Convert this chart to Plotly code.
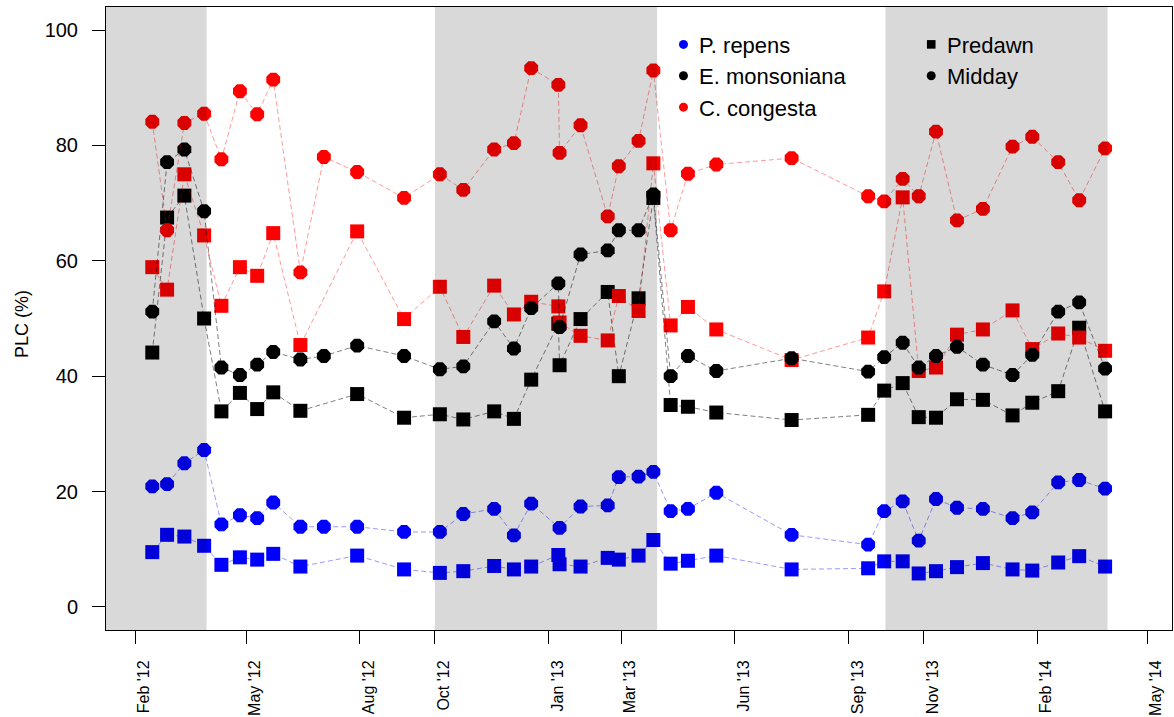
import plotly.graph_objects as go

# Sampling dates (shared by all species; None marks a missing measurement)
sample_dates = [
    "2012-02-15", "2012-02-27", "2012-03-12", "2012-03-28", "2012-04-11",
    "2012-04-26", "2012-05-10", "2012-05-23", "2012-06-14", "2012-07-03",
    "2012-07-30", "2012-09-06", "2012-10-05", "2012-10-24", "2012-11-18",
    "2012-12-04", "2012-12-18", "2013-01-09", "2013-01-10", "2013-01-27",
    "2013-02-18", "2013-02-27", "2013-03-15", "2013-03-27", "2013-04-10",
    "2013-04-24", "2013-05-17", "2013-07-17", "2013-09-17", "2013-09-30",
    "2013-10-15", "2013-10-28", "2013-11-11", "2013-11-28", "2013-12-19",
    "2014-01-12", "2014-01-28", "2014-02-18", "2014-03-07", "2014-03-28",
]

# Percent loss of conductivity (PLC, %)
repens_predawn = [
    9.5, 12.5, 12.2, 10.6, 7.3, 8.6, 8.2, 9.2, 7.0, None,
    8.9, 6.5, 5.9, 6.2, 7.1, 6.5, 7.0, 9.0, 7.4, 7.0,
    8.5, 8.2, 8.9, 11.6, 7.5, 8.0, 8.9, 6.5, 6.7, 7.9,
    7.9, 5.8, 6.2, 6.9, 7.6, 6.5, 6.3, 7.7, 8.8, 7.0,
]
repens_midday = [
    20.9, 21.3, 24.9, 27.2, 14.3, 15.9, 15.4, 18.1, 13.9, 13.9,
    13.9, 13.0, 13.0, 16.1, 17.0, 12.4, 17.9, None, 13.7, 17.4,
    17.6, 22.5, 22.6, 23.4, 16.6, 17.0, 19.8, 12.5, 10.8, 16.6,
    18.3, 11.5, 18.7, 17.2, 17.0, 15.4, 16.4, 21.6, 22.0, 20.5,
]
monsoniana_predawn = [
    44.1, 67.5, 71.3, 50.0, 33.9, 37.1, 34.3, 37.2, 34.0, None,
    36.9, 32.8, 33.4, 32.5, 33.9, 32.6, 39.4, 49.1, 41.9, 49.9,
    54.6, 40.0, 53.5, 70.9, 35.0, 34.7, 33.7, 32.4, 33.3, 37.5,
    38.8, 32.9, 32.8, 36.0, 35.9, 33.2, 35.4, 37.4, 48.4, 33.9,
]
monsoniana_midday = [
    51.2, 77.1, 79.3, 68.6, 41.5, 40.2, 42.0, 44.2, 42.9, 43.5,
    45.3, 43.5, 41.2, 41.7, 49.5, 44.8, 51.8, 56.1, 48.5, 61.1,
    61.8, 65.3, 65.3, 71.5, 40.0, 43.5, 40.9, 43.1, 40.8, 43.3,
    45.8, 41.5, 43.5, 45.1, 42.0, 40.2, 43.7, 51.2, 52.8, 41.3,
]
congesta_predawn = [
    58.9, 55.0, 75.0, 64.4, 52.2, 58.9, 57.4, 64.8, 45.4, None,
    65.1, 49.9, 55.5, 46.8, 55.7, 50.7, 52.9, 52.1, 49.3, 47.0,
    46.2, 53.9, 51.3, 76.9, 48.8, 52.0, 48.1, 42.8, 46.7, 54.7,
    71.0, 40.9, 41.5, 47.2, 48.1, 51.4, 44.7, 47.4, 46.7, 44.4,
]
congesta_midday = [
    84.1, 65.3, 83.9, 85.5, 77.6, 89.4, 85.4, 91.4, 58.0, 78.0,
    75.4, 70.9, 75.0, 72.3, 79.3, 80.4, 93.4, 90.5, 78.7, 83.5,
    67.7, 76.4, 80.8, 93.0, 65.3, 75.1, 76.7, 77.8, 71.2, 70.3,
    74.2, 71.2, 82.4, 67.0, 69.0, 79.8, 81.5, 77.1, 70.5, 79.5,
]

# Wet-season (winter) periods shaded on the plot
season_starts = ["2011-10-01", "2012-10-01", "2013-10-01"]
season_ends = ["2012-03-30", "2013-03-30", "2014-03-30"]

tick_dates = [
    "2012-02-01", "2012-05-01", "2012-08-01", "2012-10-01", "2013-01-01",
    "2013-03-01", "2013-06-01", "2013-09-01", "2013-11-01", "2014-02-01",
    "2014-05-01",
]
tick_labels = [
    "Feb '12", "May '12", "Aug '12", "Oct '12", "Jan '13", "Mar '13",
    "Jun '13", "Sep '13", "Nov '13", "Feb '14", "May '14",
]
y_ticks = [0, 20, 40, 60, 80, 100]

species = ["P. repens", "E. monsoniana", "C. congesta"]
species_colors = ["#0000ff", "#000000", "#ff0000"]
line_colors = ["rgba(0,0,255,0.40)", "rgba(0,0,0,0.50)", "rgba(255,0,0,0.40)"]
predawn_series = [repens_predawn, monsoniana_predawn, congesta_predawn]
midday_series = [repens_midday, monsoniana_midday, congesta_midday]

W, H = 1174, 717
M_L, M_R, M_T, M_B = 106, 1, 7, 85
FONT = "Liberation Sans, Arial, sans-serif"


def paper_x(px):
    return (px - M_L) / (W - M_L - M_R)


def paper_y(py):
    return (H - M_B - py) / (H - M_T - M_B)


fig = go.Figure()

# Predawn (squares) first, then midday (octagons) on top
for series, symbol, size in ((predawn_series, "square", 14), (midday_series, "octagon", 15)):
    for name, vals, mcol, lcol in zip(species, series, species_colors, line_colors):
        fig.add_trace(go.Scatter(
            x=sample_dates, y=vals, name=name, mode="lines+markers",
            connectgaps=True, showlegend=False, hoverinfo="skip",
            line=dict(color=lcol, width=1, dash="5px,3px"),
            marker=dict(symbol=symbol, size=size, color=mcol, line=dict(width=0)),
        ))

shapes = []
for s, e in zip(season_starts, season_ends):
    shapes.append(dict(
        type="rect", xref="x", yref="paper", x0=s, x1=e, y0=0, y1=1,
        fillcolor="rgba(0,0,0,0.15)", line=dict(width=0), layer="above",
    ))

annotations = []

# Species key
species_rows = [44.5, 76, 107.5]
for name, col, row in zip(species, species_colors, species_rows):
    shapes.append(dict(
        type="circle", xref="paper", yref="paper",
        xsizemode="pixel", ysizemode="pixel",
        xanchor=paper_x(684), yanchor=paper_y(row),
        x0=-4.5, x1=4.5, y0=-4.5, y1=4.5,
        fillcolor=col, line=dict(width=0), layer="above",
    ))
    annotations.append(dict(
        text=name, x=paper_x(698), y=paper_y(row + 1), xref="paper", yref="paper",
        xanchor="left", yanchor="middle", showarrow=False,
        font=dict(family=FONT, size=22, color="black"),
    ))

# Time-of-day key
shapes.append(dict(
    type="rect", xref="paper", yref="paper", xsizemode="pixel", ysizemode="pixel",
    xanchor=paper_x(932), yanchor=paper_y(44.5), x0=-4.3, x1=4.3, y0=-4.3, y1=4.3,
    fillcolor="black", line=dict(width=0), layer="above",
))
shapes.append(dict(
    type="circle", xref="paper", yref="paper", xsizemode="pixel", ysizemode="pixel",
    xanchor=paper_x(932), yanchor=paper_y(76), x0=-4.5, x1=4.5, y0=-4.5, y1=4.5,
    fillcolor="black", line=dict(width=0), layer="above",
))
for label, row in (("Predawn", 44.5), ("Midday", 76)):
    annotations.append(dict(
        text=label, x=paper_x(946), y=paper_y(row + 1), xref="paper", yref="paper",
        xanchor="left", yanchor="middle", showarrow=False,
        font=dict(family=FONT, size=22, color="black"),
    ))

# Y axis title
annotations.append(dict(
    text="PLC (%)", x=paper_x(22), y=paper_y(325), xref="paper", yref="paper",
    xanchor="center", yanchor="middle", textangle=-90, showarrow=False,
    font=dict(family=FONT, size=18, color="black"),
))

fig.update_layout(
    width=W, height=H,
    margin=dict(l=M_L, r=M_R, t=M_T, b=M_B, pad=0),
    paper_bgcolor="white", plot_bgcolor="white",
    font=dict(family=FONT, color="black"),
    shapes=shapes, annotations=annotations, showlegend=False,
    xaxis=dict(
        type="date", range=["2012-01-08 12:00", "2014-05-21 05:00"],
        tickmode="array", tickvals=tick_dates, ticktext=tick_labels,
        tickangle=-90, ticks="outside", ticklen=13, tickwidth=1, tickcolor="black",
        tickfont=dict(family=FONT, size=16, color="black"),
        ticklabelstandoff=10, ticklabelshift=9,
        showline=True, linecolor="black", linewidth=1, mirror=True,
        showgrid=False, zeroline=False,
    ),
    yaxis=dict(
        range=[-4, 104], tickmode="array", tickvals=y_ticks,
        ticks="outside", ticklen=13, tickwidth=1, tickcolor="black",
        tickfont=dict(family=FONT, size=20, color="black"),
        ticklabelstandoff=10,
        showline=True, linecolor="black", linewidth=1, mirror=True,
        showgrid=False, zeroline=False,
    ),
)

fig.write_html("out.html")
